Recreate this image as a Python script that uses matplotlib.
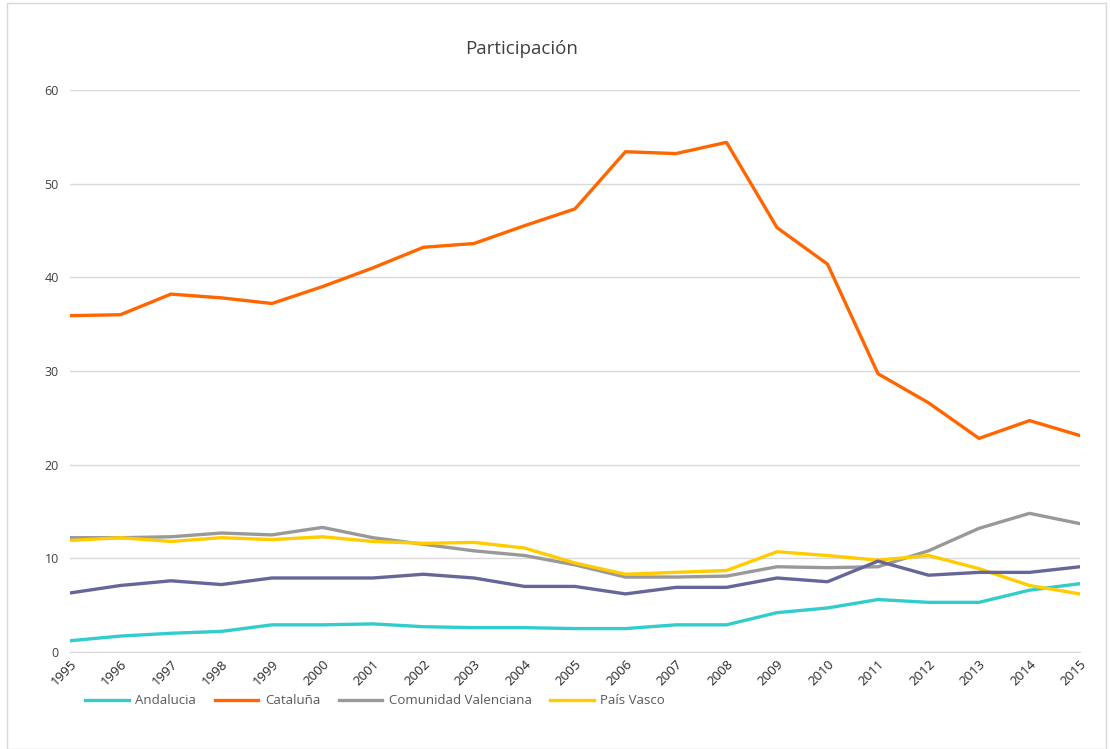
import numpy as np
import matplotlib
matplotlib.use('Agg')
import matplotlib.pyplot as plt
from matplotlib.patches import Rectangle

plt.rcParams['font.family'] = ['Open Sans', 'DejaVu Sans']

years = list(range(1995, 2016))

andalucia = [1.2, 1.7, 2.0, 2.2, 2.9, 2.9, 3.0, 2.7, 2.6, 2.6, 2.5,
             2.5, 2.9, 2.9, 4.2, 4.7, 5.6, 5.3, 5.3, 6.6, 7.3]
cataluna = [35.9, 36.0, 38.2, 37.8, 37.2, 39.0, 41.0, 43.2, 43.6, 45.5, 47.3,
            53.4, 53.2, 54.4, 45.3, 41.4, 29.7, 26.6, 22.8, 24.7, 23.1]
valenciana = [12.2, 12.2, 12.3, 12.7, 12.5, 13.3, 12.2, 11.5, 10.8, 10.3, 9.3,
              8.0, 8.0, 8.1, 9.1, 9.0, 9.1, 10.8, 13.2, 14.8, 13.7]
pais_vasco = [11.9, 12.2, 11.8, 12.2, 12.0, 12.3, 11.8, 11.6, 11.7, 11.1, 9.5,
              8.3, 8.5, 8.7, 10.7, 10.3, 9.8, 10.3, 8.9, 7.1, 6.2]
otra = [6.3, 7.1, 7.6, 7.2, 7.9, 7.9, 7.9, 8.3, 7.9, 7.0, 7.0,
        6.2, 6.9, 6.9, 7.9, 7.5, 9.7, 8.2, 8.5, 8.5, 9.1]

fig = plt.figure(figsize=(11.1, 7.49), dpi=100)
ax = fig.add_axes([0.063, 0.1295, 0.910, 0.7505])

lw = 2.4
ax.plot(years, andalucia, color='#33CCCC', lw=lw, label='Andalucia')
ax.plot(years, cataluna, color='#FF6600', lw=lw, label='Cataluña')
ax.plot(years, valenciana, color='#999999', lw=lw, label='Comunidad Valenciana')
ax.plot(years, pais_vasco, color='#FFCC00', lw=lw, label='País Vasco')
ax.plot(years, otra, color='#666699', lw=lw, label='_nolegend_')

ax.set_xlim(1995, 2015)
ax.set_ylim(0, 60)
ax.set_yticks(np.arange(0, 61, 10))
ax.set_xticks(years)
ax.set_xticklabels([str(y) for y in years], rotation=45, ha='right',
                   rotation_mode='anchor', fontsize=9.5, color='#262626')
ax.tick_params(axis='y', labelsize=9, labelcolor='#404040', length=0, pad=8)
ax.tick_params(axis='x', length=0, pad=4)
ax.grid(axis='y', color='#d9d9d9', lw=1)
ax.set_axisbelow(True)
for s in ['top', 'right', 'left']:
    ax.spines[s].set_visible(False)
ax.spines['bottom'].set_color('#d9d9d9')

fig.text(0.470, 0.935, 'Participación', ha='center', va='center',
         fontsize=13.5, color='#404040')

fig.legend(loc='lower left', bbox_to_anchor=(0.066, 0.04), ncol=4, frameon=False,
           fontsize=9.5, handlelength=3.3, columnspacing=1.4, handletextpad=0.5,
           labelcolor='#595959')

fig.patches.append(Rectangle((0.006, 0.0), 0.99, 0.996, transform=fig.transFigure,
                             fill=False, edgecolor='#d9d9d9', lw=1))

fig.savefig('out.png', dpi=100)
